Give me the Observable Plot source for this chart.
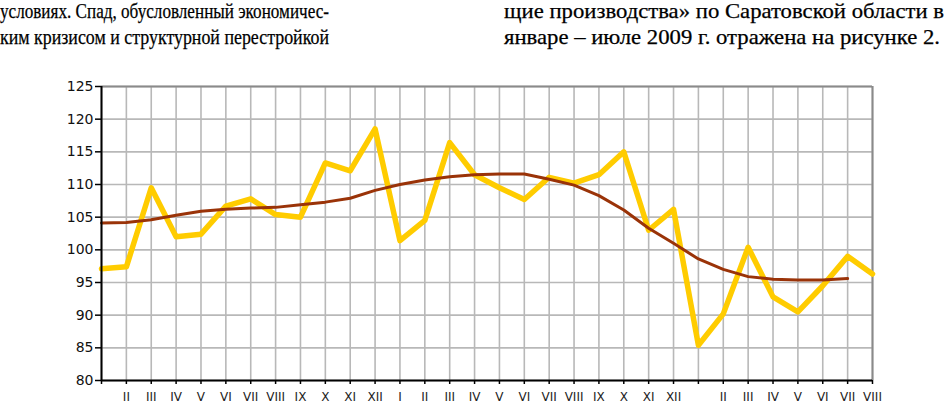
<!DOCTYPE html>
<html>
<head>
<meta charset="utf-8">
<script src="https://cdn.jsdelivr.net/npm/d3@7"></script>
<script src="https://cdn.jsdelivr.net/npm/@observablehq/plot@0.6"></script>
<style>
  html, body { margin: 0; padding: 0; background: #fff; }
  #wrap { position: relative; width: 944px; height: 403px; overflow: hidden; }
  #head { position: absolute; left: 0; top: 0; }
  #chart { position: absolute; left: 0; top: 60px; }
  #head text { font-family: "Liberation Serif", "Times New Roman", serif; font-size: 21px; fill: #000; stroke: #000; stroke-width: 0.25px; }
</style>
</head>
<body>
<div id="wrap">
  <svg id="head" width="944" height="60">
    <text x="0" y="18" textLength="329" lengthAdjust="spacingAndGlyphs">условиях. Спад, обусловленный экономичес-</text>
    <text x="0" y="44" textLength="329" lengthAdjust="spacingAndGlyphs">ким кризисом и структурной перестройкой</text>
    <text x="504" y="18" textLength="440" lengthAdjust="spacingAndGlyphs">щие производства» по Саратовской области в</text>
    <text x="504" y="44" textLength="436" lengthAdjust="spacingAndGlyphs">январе – июле 2009 г. отражена на рисунке 2.</text>
  </svg>
  <div id="chart"></div>
</div>
<script>
// Month labels (Jan 2007 – Aug 2009); the January ticks of 2007 and 2009 are unlabeled in the original
const months = ["", "II", "III", "IV", "V", "VI", "VII", "VIII", "IX", "X", "XI", "XII",
                "I", "II", "III", "IV", "V", "VI", "VII", "VIII", "IX", "X", "XI", "XII",
                "", "II", "III", "IV", "V", "VI", "VII", "VIII"];
// Monthly index (yellow line)
const indexValues = [97.1, 97.4, 109.5, 102.0, 102.4, 106.7, 107.8, 105.4, 105.0, 113.3, 112.1, 118.5,
                     101.4, 104.5, 116.4, 111.5, 109.5, 107.7, 111.1, 110.2, 111.5, 115.0, 103.0, 106.2,
                     85.4, 90.2, 100.4, 92.8, 90.5, 94.5, 99.0, 96.3];
// Trend (brown line), ends at July 2009
const trendValues = [104.1, 104.2, 104.6, 105.3, 105.9, 106.2, 106.4, 106.5, 106.9, 107.3, 107.9, 109.1,
                     110.0, 110.7, 111.2, 111.5, 111.6, 111.6, 110.8, 109.9, 108.3, 106.1, 103.3, 101.0,
                     98.6, 97.0, 95.9, 95.5, 95.4, 95.4, 95.6];
const yTicks = [80, 85, 90, 95, 100, 105, 110, 115, 120, 125];

const xTicks = months.map((m, i) => i);
const idx = indexValues.map((v, i) => ({i, v}));
const trend = trendValues.map((v, i) => ({i, v}));

const chart = Plot.plot({
  width: 944,
  height: 343,
  marginTop: 26,
  marginBottom: 23,
  marginLeft: 101,
  marginRight: 72,
  x: {domain: [0, months.length - 1], label: null},
  y: {domain: [80, 125], label: null},
  style: {background: "#fff"},
  marks: [
    Plot.gridX(xTicks, {stroke: "#b8b8b8", strokeOpacity: 1, strokeWidth: 1.6}),
    Plot.gridY(yTicks, {stroke: "#b8b8b8", strokeOpacity: 1, strokeWidth: 1.6}),
    Plot.ruleY([125], {stroke: "#8a8a8a", strokeWidth: 2}),
    Plot.ruleX([months.length - 1], {stroke: "#8a8a8a", strokeWidth: 2}),
    Plot.line(idx, {x: "i", y: "v", stroke: "#ffcc00", strokeWidth: 5.5}),
    Plot.line(trend, {x: "i", y: "v", stroke: "#9a3308", strokeWidth: 3}),
    Plot.ruleX([0], {stroke: "#000", strokeWidth: 2}),
    Plot.ruleY([80], {stroke: "#000", strokeWidth: 2}),
    Plot.axisY(yTicks, {label: null, tickSize: 6, tickPadding: 2, fontSize: 14, fontFamily: "DejaVu Sans", stroke: "#000", strokeWidth: 1.5, fill: "#111", letterSpacing: 1}),
    Plot.axisX(xTicks, {label: null, tickSize: 4, tickPadding: 8, fontSize: 12, fontFamily: "DejaVu Sans", fill: "#222", strokeWidth: 1.5, tickFormat: i => months[i]})
  ]
});
document.getElementById("chart").appendChild(chart);
</script>
</body>
</html>
